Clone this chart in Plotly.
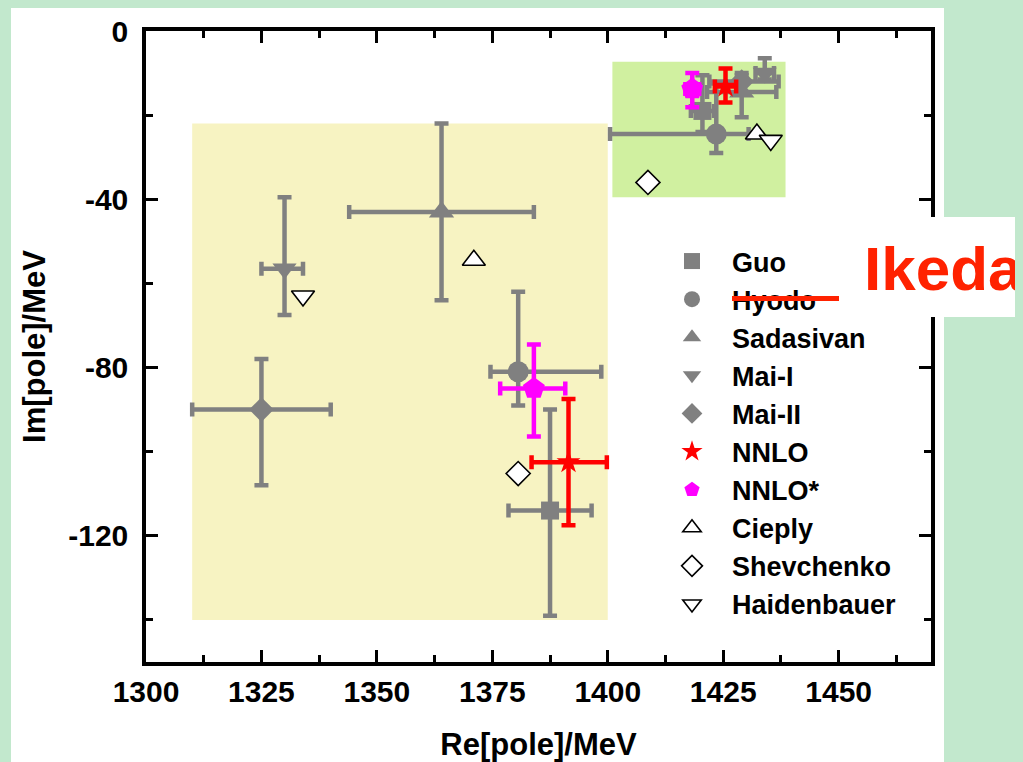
import plotly.graph_objects as go

# ---------------- data ----------------
names = ["Guo", "Hyodo", "Sadasivan", "Mai-I", "Mai-II", "NNLO", "NNLO*",
         "Cieply", "Shevchenko", "Haidenbauer"]

# two poles per model: [higher pole, lower pole]
re_vals = {
    "Guo": [1420.5, 1387.5],
    "Hyodo": [1423.5, 1380.6],
    "Sadasivan": [1429.0, 1364.0],
    "Mai-I": [1434.0, 1330.0],
    "Mai-II": [1429.0, 1325.0],
    "NNLO": [1425.5, 1391.5],
    "NNLO*": [1418.3, 1384.0],
    "Cieply": [1432.3, 1371.0],
    "Shevchenko": [1408.7, 1380.6],
    "Haidenbauer": [1435.3, 1334.0],
}
im_vals = {
    "Guo": [-19.0, -114.0],
    "Hyodo": [-24.5, -81.0],
    "Sadasivan": [-14.5, -43.0],
    "Mai-I": [-10.0, -56.5],
    "Mai-II": [-12.0, -90.0],
    "NNLO": [-13.2, -102.5],
    "NNLO*": [-13.8, -85.0],
    "Cieply": [-24.5, -54.5],
    "Shevchenko": [-36.0, -105.2],
    "Haidenbauer": [-26.0, -63.0],
}
# errors: (plus, minus)
re_err_plus = {"Guo": [2.5, 9.0], "Hyodo": [7.0, 18.0], "Sadasivan": [7.5, 20.0],
               "Mai-I": [2.0, 4.0], "Mai-II": [8.0, 15.0], "NNLO": [2.3, 8.3],
               "NNLO*": [1.5, 6.8]}
re_err_minus = {"Guo": [2.5, 9.0], "Hyodo": [23.0, 6.0], "Sadasivan": [7.5, 20.0],
                "Mai-I": [2.0, 5.0], "Mai-II": [7.0, 15.0], "NNLO": [2.3, 8.0],
                "NNLO*": [1.5, 7.3]}
im_err_plus = {"Guo": [8.5, 24.0], "Hyodo": [12.0, 19.0], "Sadasivan": [4.0, 21.0],
               "Mai-I": [3.5, 17.0], "Mai-II": [2.0, 12.0], "NNLO": [4.3, 15.0],
               "NNLO*": [3.8, 10.5]}
im_err_minus = {"Guo": [5.0, 25.0], "Hyodo": [4.5, 8.0], "Sadasivan": [6.0, 21.0],
                "Mai-I": [1.5, 11.0], "Mai-II": [3.0, 18.0], "NNLO": [3.8, 15.0],
                "NNLO*": [4.3, 11.4]}

symbols = {"Guo": "square", "Hyodo": "circle", "Sadasivan": "triangle-up",
           "Mai-I": "triangle-down", "Mai-II": "diamond", "NNLO": "star",
           "NNLO*": "pentagon", "Cieply": "triangle-up-open",
           "Shevchenko": "diamond-open", "Haidenbauer": "triangle-down-open"}
sizes = {"Guo": 18, "Hyodo": 21, "Sadasivan": 22, "Mai-I": 21, "Mai-II": 19,
         "NNLO": 18, "NNLO*": 23, "Cieply": 20, "Shevchenko": 18.5, "Haidenbauer": 20}
colors = {"Guo": "#808080", "Hyodo": "#808080", "Sadasivan": "#808080",
          "Mai-I": "#808080", "Mai-II": "#808080", "NNLO": "#ff0000",
          "NNLO*": "#ff00ff", "Cieply": "#000000", "Shevchenko": "#000000",
          "Haidenbauer": "#000000"}

x_ticks = [1300, 1325, 1350, 1375, 1400, 1425, 1450]
y_ticks = [0, -40, -80, -120]

# ---------------- layout geometry ----------------
W, H = 1023, 762
OFF = 8  # page offset of the figure inside the browser window
L, R, T, B = 146, 931, 31, 662  # plot area in window pixels
SLIDE_GREEN = "#c2e8cd"


def px_x(p):
    return (p - L) / (R - L)


def px_y(p):
    return (B - p) / (B - T)


FONT = "Liberation Sans, Arial, sans-serif"

fig = go.Figure()

for n in names:
    open_sym = n in ("Cieply", "Shevchenko", "Haidenbauer")
    kw = {}
    if n in re_err_plus:
        kw["error_x"] = dict(type="data", symmetric=False, array=re_err_plus[n],
                             arrayminus=re_err_minus[n], color=colors[n],
                             thickness=4.5, width=7)
        kw["error_y"] = dict(type="data", symmetric=False, array=im_err_plus[n],
                             arrayminus=im_err_minus[n], color=colors[n],
                             thickness=4.5, width=7)
    fig.add_trace(go.Scatter(
        x=re_vals[n], y=im_vals[n], mode="markers", name=n,
        marker=dict(symbol=symbols[n].replace("-open", ""), size=sizes[n],
                    color="white" if open_sym else colors[n],
                    line=dict(color="black", width=1.6) if open_sym else dict(width=0)),
        **kw))

shapes = [
    # white slide panel
    dict(type="rect", xref="paper", yref="paper", x0=px_x(11), x1=px_x(944),
         y0=px_y(790), y1=px_y(5), fillcolor="white", line=dict(width=0), layer="below"),
    # shaded regions
    dict(type="rect", xref="x", yref="y", x0=1310, x1=1400, y0=-140, y1=-22,
         fillcolor="#f7f3c2", line=dict(width=0), layer="below"),
    dict(type="rect", xref="x", yref="y", x0=1401, x1=1438.5, y0=-39.5, y1=-7.3,
         fillcolor="#d0f0a0", line=dict(width=0), layer="below"),
    # Ikeda box
    dict(type="rect", xref="paper", yref="paper", x0=px_x(848), x1=px_x(1040),
         y0=px_y(317), y1=px_y(217), fillcolor="white", line=dict(width=0), layer="above"),
]

fig.add_annotation(text="<b>Ikeda</b>", xref="paper", yref="paper",
                   x=px_x(862), y=px_y(268), xanchor="left", yanchor="middle",
                   showarrow=False, font=dict(family=FONT, size=62, color="#ff2200"))

# red strike-out bar over the "Hyodo" legend entry (drawn above the legend)
fig.add_annotation(text=" ", xref="paper", yref="paper",
                   x=px_x(785.5), y=px_y(298.5), xanchor="center", yanchor="middle",
                   showarrow=False, width=107, height=5, borderpad=0, borderwidth=0,
                   bgcolor="#ff2200", font=dict(size=1, color="#ff2200"))

axis_common = dict(showline=True, linecolor="black", linewidth=3.5, mirror="allticks",
                   ticks="inside", ticklen=12, tickwidth=3, tickcolor="black",
                   showgrid=False, zeroline=False, automargin=False,
                   tickfont=dict(family=FONT, size=30, color="black", weight="bold"))

fig.update_layout(
    width=W, height=H,
    margin=dict(l=L - OFF, r=W - (R - OFF), t=T - OFF, b=H - (B - OFF), autoexpand=False),
    paper_bgcolor=SLIDE_GREEN, plot_bgcolor="rgba(0,0,0,0)",
    shapes=shapes,
    showlegend=True,
    legend=dict(x=px_x(652), y=px_y(237), xanchor="left", yanchor="top",
                bgcolor="rgba(0,0,0,0)", borderwidth=0, itemsizing="trace",
                itemwidth=70,
                font=dict(family=FONT, size=27, color="black", weight="bold"),
                tracegroupgap=0),
    xaxis=dict(range=[1300, 1470], tickvals=x_ticks, ticktext=[str(v) for v in x_ticks],
               minor=dict(ticks="inside", ticklen=7, tickwidth=3, tickcolor="black", dtick=12.5, tick0=1300),
               title=dict(text="<b>Re[pole]/MeV</b>", font=dict(family=FONT, size=31, color="black"), standoff=28),
               **axis_common),
    yaxis=dict(range=[-150, 0], tickvals=y_ticks, ticktext=[str(v) for v in y_ticks],
               minor=dict(ticks="inside", ticklen=7, tickwidth=3, tickcolor="black", dtick=20, tick0=0),
               title=dict(text="<b>Im[pole]/MeV</b>", font=dict(family=FONT, size=31, color="black"), standoff=14),
               ticklabelstandoff=8,
               **axis_common),
)

fig.write_html("out.html",
               post_script="document.body.style.background='%s';"
                           "document.documentElement.style.background='%s';" % (SLIDE_GREEN, SLIDE_GREEN))
